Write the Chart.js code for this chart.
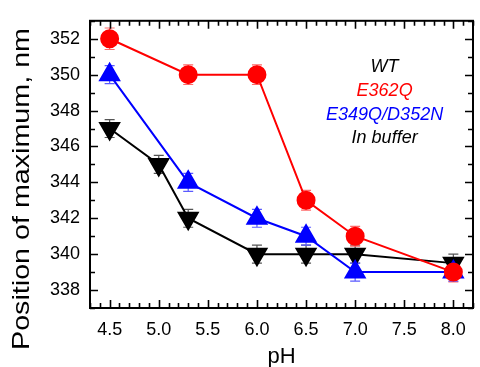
<!DOCTYPE html>
<html><head><meta charset="utf-8">
<script src="https://cdn.jsdelivr.net/npm/chart.js@4.4.0/dist/chart.umd.min.js"></script>
<style>
html,body{margin:0;padding:0;background:#fff;overflow:hidden;width:480px;height:367px}
#wrap{position:relative;width:486px;height:367px}
</style></head>
<body><div id="wrap"><canvas id="c" width="486" height="367"></canvas></div>
<script>
const xTickValues = [4.5, 5.0, 5.5, 6.0, 6.5, 7.0, 7.5, 8.0];
const yTickValues = [338, 340, 342, 344, 346, 348, 350, 352];

const pHWT = [4.5, 5.0, 5.3, 6.0, 6.5, 7.0, 8.0];
const maxWT = [347, 345, 342, 340, 340, 340, 339.5];
const errWT = [0.5, 0.5, 0.5, 0.5, 0.5, 0.5, 0.5];

const pHE362Q = [4.5, 5.3, 6.0, 6.5, 7.0, 8.0];
const maxE362Q = [352, 350, 350, 343, 341, 339];
const errE362Q = [0.6, 0.55, 0.55, 0.55, 0.55, 0.55];

const pHE349Q = [4.5, 5.3, 6.0, 6.5, 7.0, 8.0];
const maxE349Q = [350, 344, 342, 341, 339, 339];
const errE349Q = [0.5, 0.5, 0.5, 0.5, 0.5, 0.5];

const legendLabels = ['WT', 'E362Q', 'E349Q/D352N', 'In buffer'];
const legendColors = ['#000000', '#ff0000', '#0000ff', '#000000'];
const yTitle = 'Position of maximum, nm';
const xTitle = 'pH';

const FAMILY = '"Liberation Sans", Arial, Helvetica, sans-serif';

function pts(xs, ys) { return xs.map((x, i) => ({x: x, y: ys[i]})); }

const errorColors = ['#555555', '#ff6a6a', '#5a5aff'];
const errs = [errWT, errE362Q, errE349Q];

const decoPlugin = {
  id: 'deco',
  beforeDatasetsDraw(chart) {
    const ctx = chart.ctx, xs = chart.scales.x, ys = chart.scales.y;
    chart.data.datasets.forEach((ds, i) => {
      ctx.save();
      ctx.strokeStyle = errorColors[i];
      ctx.lineWidth = 1.2;
      ds.data.forEach((p, j) => {
        const e = errs[i][j];
        const px = xs.getPixelForValue(p.x);
        const t = ys.getPixelForValue(p.y + e), b = ys.getPixelForValue(p.y - e);
        ctx.beginPath();
        ctx.moveTo(px, t); ctx.lineTo(px, b);
        ctx.moveTo(px - 5, t); ctx.lineTo(px + 5, t);
        ctx.moveTo(px - 5, b); ctx.lineTo(px + 5, b);
        ctx.stroke();
      });
      ctx.restore();
    });
  },
  afterDraw(chart) {
    const ctx = chart.ctx, a = chart.chartArea, xs = chart.scales.x, ys = chart.scales.y;
    ctx.save();
    ctx.strokeStyle = '#000';
    ctx.lineWidth = 2;
    ctx.strokeRect(a.left, a.top, a.right - a.left, a.bottom - a.top);
    ctx.lineWidth = 1.6;
    ctx.beginPath();
    for (let k = 43; k <= 82; k++) {
      const v = k / 10;
      const major = (k % 5 === 0);
      const len = major ? 8 : 5;
      const px = Math.round(xs.getPixelForValue(v)) + 0.5;
      ctx.moveTo(px, a.bottom); ctx.lineTo(px, a.bottom - len);
      ctx.moveTo(px, a.top); ctx.lineTo(px, a.top + len);
    }
    for (let v = 337; v <= 353; v++) {
      const major = (v % 2 === 0);
      const len = major ? 8 : 5;
      const py = Math.round(ys.getPixelForValue(v)) + 0.5;
      ctx.moveTo(a.left, py); ctx.lineTo(a.left + len, py);
      ctx.moveTo(a.right, py); ctx.lineTo(a.right - len, py);
    }
    ctx.stroke();

    ctx.font = 'italic 18px ' + FAMILY;
    ctx.textAlign = 'center';
    ctx.textBaseline = 'middle';
    const lx = xs.getPixelForValue(7.3);
    legendLabels.forEach((t, i) => {
      ctx.fillStyle = legendColors[i];
      ctx.fillText(t, lx, 67 + i * 23.8);
    });

    ctx.save();
    ctx.translate(22, 189);
    ctx.rotate(-Math.PI / 2);
    ctx.font = '24px ' + FAMILY;
    ctx.fillStyle = '#000';
    ctx.textAlign = 'center';
    ctx.textBaseline = 'middle';
    const w = ctx.measureText(yTitle).width;
    ctx.scale(322 / w, 1);
    ctx.fillText(yTitle, 0, 0);
    ctx.restore();
    ctx.restore();
  }
};

new Chart(document.getElementById('c'), {
  type: 'scatter',
  data: {
    datasets: [
      {label: 'WT', data: pts(pHWT, maxWT), showLine: true, borderColor: '#000', backgroundColor: '#000',
       borderWidth: 2, pointStyle: 'triangle', rotation: 180, pointRadius: 11, order: 2},
      {label: 'E362Q', data: pts(pHE362Q, maxE362Q), showLine: true, borderColor: '#ff0000', backgroundColor: '#ff0000',
       borderWidth: 2, pointStyle: 'circle', pointRadius: 8.5, order: 0},
      {label: 'E349Q/D352N', data: pts(pHE349Q, maxE349Q), showLine: true, borderColor: '#0000ff', backgroundColor: '#0000ff',
       borderWidth: 2, pointStyle: 'triangle', pointRadius: 11, order: 1}
    ]
  },
  options: {
    responsive: false,
    animation: false,
    devicePixelRatio: 1,
    layout: {padding: {left: 0, right: 3, top: 15, bottom: 0}},
    plugins: {legend: {display: false}, tooltip: {enabled: false}},
    elements: {point: {borderWidth: 0}, line: {tension: 0}},
    scales: {
      x: {
        type: 'linear', min: 4.3, max: 8.2,
        afterBuildTicks(s) { s.ticks = xTickValues.map(v => ({value: v})); },
        afterFit(s) { s.height = 59; },
        grid: {display: false, drawTicks: false},
        border: {display: false},
        ticks: {padding: 11, autoSkip: false, maxRotation: 0, color: '#000',
                font: {size: 18, family: FAMILY}, callback: v => Number(v).toFixed(1)},
        title: {display: true, text: xTitle, color: '#000', font: {size: 22, family: FAMILY}, padding: {top: 0, bottom: -3}}
      },
      y: {
        type: 'linear', min: 337, max: 353,
        afterBuildTicks(s) { s.ticks = yTickValues.map(v => ({value: v})); },
        afterFit(s) { s.width = 90; },
        grid: {display: false, drawTicks: false},
        border: {display: false},
        ticks: {padding: 10, autoSkip: false, color: '#000',
                font: {size: 18, family: FAMILY}, callback: v => String(v)}
      }
    }
  },
  plugins: [decoPlugin]
});
</script></body></html>
